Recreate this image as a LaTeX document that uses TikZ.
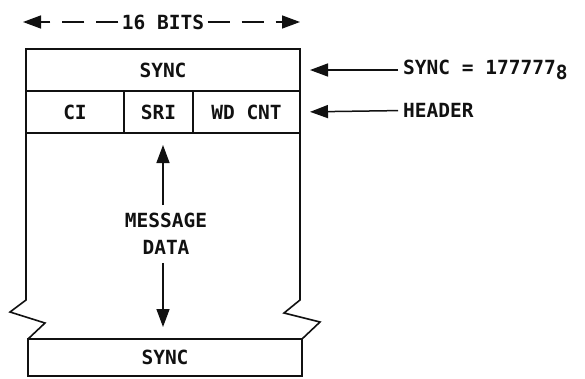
\documentclass[tikz,border=0pt]{standalone}
\usepackage{fontspec}
\setmonofont{DejaVu Sans Mono}
\usetikzlibrary{arrows.meta,positioning}
\definecolor{ink}{HTML}{111111}
\tikzset{
  every node/.style={font=\ttfamily\bfseries\fontsize{19.5}{27}\selectfont,text=ink},
  field/.style={draw=ink,line width=1.6pt,minimum height=42pt,inner sep=0pt,outer sep=0pt,anchor=north west},
  outline/.style={draw=ink,line width=1.6pt,line join=miter},
  pointer/.style={-{Triangle[length=18pt,width=13pt]},line width=1.5pt,draw=ink},
  dimline/.style={pointer,dash pattern=on 22pt off 12pt},
  tag/.style={inner sep=5pt,anchor=west},
}

\begin{document}
\begin{tikzpicture}[x=1pt,y=-1pt]
\useasboundingbox (0,0) rectangle (585,378);

% word layout
\node[field,minimum width=274pt] (sync) at (26,49) {SYNC};
\node[field,minimum width=98pt] (ci) at (sync.south west) {CI};
\node[field,minimum width=69pt,right=0pt of ci.north east,anchor=north west] (sri) {SRI};
\node[field,minimum width=107pt,right=0pt of sri.north east,anchor=north west] (wdcnt) {WD CNT};
\node[field,minimum width=274pt,minimum height=37pt] (endsync) at (28,339) {SYNC};

% broken sides of the data block
\draw[outline] (ci.south west) -- ++(0,167) -- ++(-16,12) -- ++(35,11) -- (endsync.north west);
\draw[outline] (wdcnt.south east) -- ++(0,167) -- ++(-16,13) -- ++(36,9) -- (endsync.north east);

\node[align=center,inner xsep=3pt,inner ysep=8pt] (msg) at (166,234) {MESSAGE\\DATA};
\coordinate (uptip) at (163,145);
\coordinate (downtip) at (163,327);
\draw[pointer] (msg.north -| uptip) -- (uptip);
\draw[pointer] (msg.south -| downtip) -- (downtip);

% width
\node (bits) at (163,22) {16 BITS};
\coordinate (bitsleft) at (23,22);
\coordinate (bitsright) at (300,22);
\draw[dimline] (bits) -- (bitsleft);
\draw[dimline] (bits) -- (bitsright);

% notes
\node[tag] (synceq) at (398,70) {SYNC = 177777\raisebox{-5pt}{8}};
\node[tag] (hdr) at (398,110) {HEADER};
\draw[pointer,shorten >=10pt] (synceq) -- (sync.east);
\draw[pointer,shorten >=10pt] (hdr) -- (wdcnt.east);

\end{tikzpicture}
\end{document}
